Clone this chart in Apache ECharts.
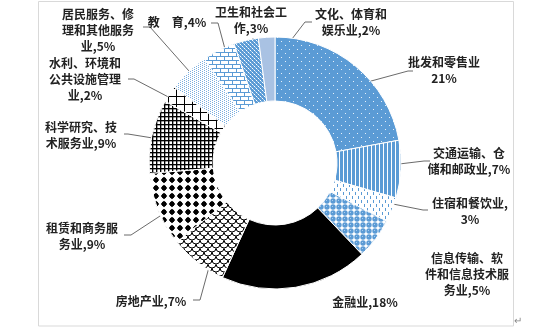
<!DOCTYPE html>
<html><head><meta charset="utf-8">
<script src="https://cdn.jsdelivr.net/npm/echarts@6/dist/echarts.min.js"></script>
<style>html,body{margin:0;padding:0;background:#fff}#c{width:556px;height:332px}</style>
</head><body><div id="c"></div>
<script>
// ---- data ----
const categories = [
  '批发和零售业', '交通运输、仓\n储和邮政业', '住宿和餐饮业', '信息传输、软\n件和信息技术服\n务业',
  '金融业', '房地产业', '租赁和商务服\n务业', '科学研究、技\n术服务业',
  '水利、环境和\n公共设施管理\n业', '居民服务、修\n理和其他服务\n业', '教　育',
  '卫生和社会工\n作', '文化、体育和\n娱乐业'
];
const values = [21, 7, 3, 5, 18, 7, 9, 9, 2, 5, 4, 3, 2];
const labelSep = ['\n', ',', ',\n', ',', ',', ',', ',', ',', ',', ',', ',', ',', ','];

// ---- layout (label positions: center x, top y) ----
const CX = 275, CY = 163;
const labelPos = [[444,54],[469,145],[470,195],[467,250],[365,294],[151,293],[82,220],[81,119],[85,55],[98,6],[177,14],[251,4],[351,6]];
const labelLines = [
  [[408,71],[413,71]], [[424,161],[430,161]], [[423,210],[428,210]], null, null,
  [[200,300],[193,300]], [[131,235],[124,235]], [[128,134],[124,134]], [[134,79],[128,79]],
  [[150,27],[143,27]], [[218,23],[211,23]], [[253,40],[253,38]], [[305,22],[312,22]]
];

// ---- pattern fills ----
function tile(w, h, draw) {
  const c = document.createElement('canvas'); c.width = w; c.height = h;
  const g = c.getContext('2d'); draw(g, w, h);
  return { image: c, repeat: 'repeat' };
}
const BLUE = '#5B9BD5';
const fills = [
  tile(8, 8, g => { g.fillStyle = BLUE; g.fillRect(0,0,8,8); g.fillStyle = 'rgba(255,255,255,0.85)'; g.fillRect(1,1,1,1); g.fillRect(5,5,1,1); }),
  tile(4, 4, g => { g.fillStyle = BLUE; g.fillRect(0,0,4,4); g.fillStyle = '#fff'; g.fillRect(3,0,1,4); }),
  tile(6, 8, g => { g.fillStyle = '#fff'; g.fillRect(0,0,6,8); g.fillStyle = BLUE; g.fillRect(1,0,1,3); g.fillRect(4,4,1,3); }),
  tile(6, 6, g => { g.fillStyle = '#fff'; g.fillRect(0,0,6,6); g.fillStyle = BLUE; g.beginPath(); g.arc(3,3,2.7,0,Math.PI*2); g.fill(); g.fillStyle = '#a8cbee'; g.fillRect(2,2,1,1); }),
  '#000000',
  tile(8, 8, g => { g.fillStyle = '#fff'; g.fillRect(0,0,8,8); g.strokeStyle = '#000'; g.lineWidth = 1;
    g.beginPath(); g.arc(4,0,4,0,Math.PI); g.stroke();
    g.beginPath(); g.arc(0,4,4,0,Math.PI); g.stroke();
    g.beginPath(); g.arc(8,4,4,0,Math.PI); g.stroke(); }),
  tile(8, 8, g => { g.fillStyle = '#fff'; g.fillRect(0,0,8,8); g.fillStyle = '#000'; g.beginPath();
    g.moveTo(4,0.8); g.lineTo(7.2,4); g.lineTo(4,7.2); g.lineTo(0.8,4); g.closePath(); g.fill();
    g.beginPath(); g.arc(4,4,2.4,0,Math.PI*2); g.fill(); }),
  tile(4, 4, g => { g.fillStyle = '#fff'; g.fillRect(0,0,4,4); g.fillStyle = '#000'; g.fillRect(0,0,4,1); g.fillRect(0,0,1,4);
    g.fillStyle = 'rgba(0,0,0,0.35)'; g.fillRect(0,1,4,1); g.fillRect(1,0,1,4); }),
  tile(8, 8, g => { g.fillStyle = '#fff'; g.fillRect(0,0,8,8); g.fillStyle = '#000'; g.fillRect(0,0,8,1); g.fillRect(0,0,1,8); }),
  tile(4, 4, g => { g.fillStyle = '#fff'; g.fillRect(0,0,4,4); g.fillStyle = '#7aaee0'; g.fillRect(0,0,1,1); g.fillRect(2,1,1,1); g.fillRect(0,2,1,1); g.fillRect(2,3,1,1); }),
  tile(8, 8, g => { g.fillStyle = '#fff'; g.fillRect(0,0,8,8); g.fillStyle = BLUE; g.fillRect(0,0,8,1); g.fillRect(0,4,8,1); g.fillRect(0,0,1,4); g.fillRect(4,4,1,4); }),
  tile(4, 4, g => { g.fillStyle = BLUE; g.fillRect(0,0,4,4); g.fillStyle = '#fff'; g.fillRect(0,0,1,1); g.fillRect(2,2,1,1); g.fillStyle = 'rgba(255,255,255,0.5)'; g.fillRect(1,1,1,1); g.fillRect(3,3,1,1); }),
  '#A9C2E3'
];

const data = categories.map((n, i) => ({
  name: n, value: values[i],
  itemStyle: { color: fills[i] },
  labelLine: { show: labelLines[i] !== null }
}));

const chart = echarts.init(document.getElementById('c'), null, { renderer: 'canvas' });
chart.setOption({
  animation: false,
  backgroundColor: '#fff',
  graphic: [
    { type: 'rect', shape: { x: 38.5, y: 1.5, width: 475, height: 324.5 }, style: { fill: 'none', stroke: '#d9d9d9', lineWidth: 1 }, silent: true },
    { type: 'text', left: 514, top: 316, style: { text: '↵', fill: '#888', fontSize: 10 }, silent: true }
  ],
  series: [{
    type: 'pie',
    center: [CX, CY],
    radius: [62, 126],
    startAngle: 90,
    clockwise: true,
    data: data,
    itemStyle: { borderColor: '#fff', borderWidth: 1 },
    label: {
      show: true, position: 'outside',
      fontFamily: "'Noto Sans CJK SC', sans-serif", fontSize: 12, fontWeight: 'bold',
      color: '#222', lineHeight: 16,
      formatter: p => p.name + labelSep[p.dataIndex] + p.value + '%'
    },
    labelLine: { show: true, length: 10, length2: 10, lineStyle: { color: '#6b6b6b', width: 1 } },
    labelLayout: function (params) {
      const i = params.dataIndex;
      const out = { x: labelPos[i][0], y: labelPos[i][1], align: 'center', verticalAlign: 'top' };
      const pts = params.labelLinePoints;
      if (pts && labelLines[i]) {
        const dx = pts[0][0] - CX, dy = pts[0][1] - CY, len = Math.hypot(dx, dy);
        const start = [CX + dx / len * 94, CY + dy / len * 94];
        out.labelLinePoints = [start, labelLines[i][0], labelLines[i][1]];
      }
      return out;
    }
  }]
});
</script>
</body></html>
